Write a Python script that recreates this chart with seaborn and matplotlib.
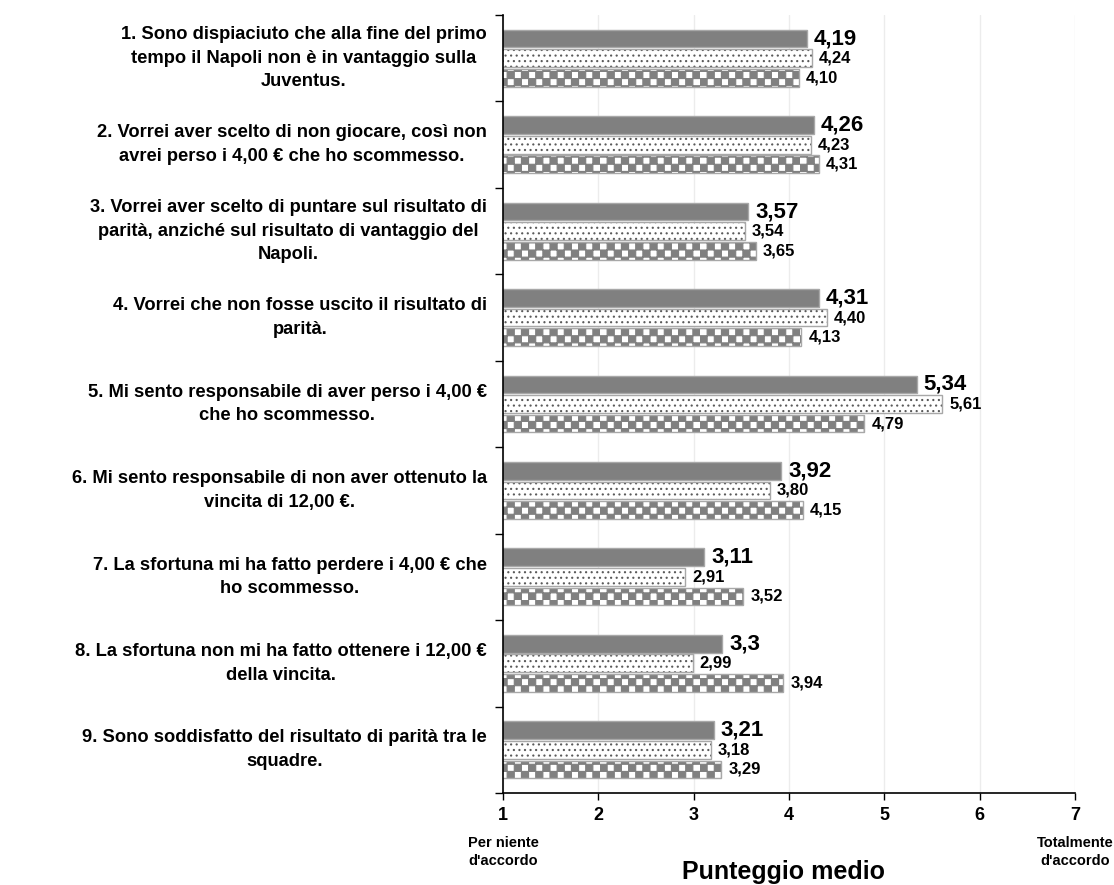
import numpy as np
import pandas as pd
import matplotlib
matplotlib.use("Agg")
import matplotlib.pyplot as plt
import matplotlib.transforms as mtransforms
from matplotlib import hatch as mhatch
from matplotlib.path import Path
from matplotlib.colors import to_rgba
import seaborn as sns

# ---- data -------------------------------------------------------------
items = [
    "1. Sono dispiaciuto che alla fine del primo\ntempo il Napoli non è in vantaggio sulla\nJuventus.",
    "2. Vorrei aver scelto di non giocare, così non\navrei perso i 4,00 € che ho scommesso.",
    "3. Vorrei aver scelto di puntare sul risultato di\nparità, anziché sul risultato di vantaggio del\nNapoli.",
    "4. Vorrei che non fosse uscito il risultato di\nparità.",
    "5. Mi sento responsabile di aver perso i 4,00 €\nche ho scommesso.",
    "6. Mi sento responsabile di non aver ottenuto la\nvincita di 12,00 €.",
    "7. La sfortuna mi ha fatto perdere i 4,00 € che\nho scommesso.",
    "8. La sfortuna non mi ha fatto ottenere i 12,00 €\ndella vincita.",
    "9. Sono soddisfatto del risultato di parità tra le\nsquadre.",
]
series_names = ["Totale", "Gruppo A", "Gruppo B"]
series_1 = ["4,19", "4,26", "3,57", "4,31", "5,34", "3,92", "3,11", "3,3", "3,21"]
series_2 = ["4,24", "4,23", "3,54", "4,40", "5,61", "3,80", "2,91", "2,99", "3,18"]
series_3 = ["4,10", "4,31", "3,65", "4,13", "4,79", "4,15", "3,52", "3,94", "3,29"]
x_ticks = [1, 2, 3, 4, 5, 6, 7]
x_title = "Punteggio medio"
low_anchor = "Per niente\nd'accordo"
high_anchor = "Totalmente\nd'accordo"


def to_num(s):
    return float(s.replace(",", "."))


all_series = [series_1, series_2, series_3]
rows = []
for name, vals in zip(series_names, all_series):
    for item, v in zip(items, vals):
        rows.append({"item": item, "serie": name, "score": to_num(v), "label": v})
df = pd.DataFrame(rows)


# ---- checkerboard hatch (replaces the unused star hatch) --------------
class CheckerHatch(mhatch.HatchPatternBase):
    def __init__(self, hatch, density):
        self.n = 14 if "*" in hatch else 0
        self.num_vertices = (self.n * self.n // 2) * 5

    def set_vertices_and_codes(self, vertices, codes):
        s = 1.0 / self.n
        k = 0
        for i in range(self.n):
            for j in range(self.n):
                if (i + j) % 2 == 0:
                    x0, y0 = j * s, i * s
                    vertices[k:k + 5] = [(x0, y0), (x0 + s, y0), (x0 + s, y0 + s),
                                         (x0, y0 + s), (x0, y0)]
                    codes[k:k + 5] = [Path.MOVETO, Path.LINETO, Path.LINETO,
                                      Path.LINETO, Path.CLOSEPOLY]
                    k += 5


mhatch._hatch_types = [t for t in mhatch._hatch_types if t is not mhatch.Stars] + [CheckerHatch]

# ---- figure -----------------------------------------------------------
sns.set_theme(style="white")
plt.rcParams["font.family"] = ["Liberation Sans", "DejaVu Sans"]
plt.rcParams["font.weight"] = "bold"
plt.rcParams["text.color"] = "black"
plt.rcParams["xtick.color"] = "black"
plt.rcParams["ytick.color"] = "black"
plt.rcParams["hatch.linewidth"] = 0.8

fig = plt.figure(figsize=(11.14, 8.85), dpi=100)
ax = fig.add_axes([0.4515, 0.104, 0.5135, 0.879])

sns.barplot(data=df, y="item", x="score", hue="serie", orient="h",
            order=items, hue_order=series_names,
            palette=["#808080", "#ffffff", "#ffffff"], saturation=1,
            width=0.68, gap=0.1, legend=False, ax=ax, errorbar=None)

hatches = [None, "...", "*"]
hatch_colors = [None, "#5a5a5a", "#808080"]
label_sizes = [16, 12, 12]
for cont, h, hc, fs, vals in zip(ax.containers, hatches, hatch_colors, label_sizes, all_series):
    for bar in cont:
        bar.set_edgecolor("#a8a8a8")
        bar.set_linewidth(1.0)
        if h:
            bar.set_hatch(h)
            bar._hatch_color = to_rgba(hc)
    ax.bar_label(cont, labels=vals, padding=5, fontsize=fs, fontweight="bold",
                 color="black")

ax.set_xlim(1, 7)
ax.set_ylim(8.5, -0.5)
ax.set_xticks(x_ticks)
ax.set_xticklabels([str(t) for t in x_ticks], fontsize=13, fontweight="bold",
                   color="black")
ax.set_xlabel("")
ax.set_ylabel("")

# group boundaries as ticks, labels written beside each group
ax.set_yticks(np.arange(-0.5, len(items), 1.0))
ax.set_yticklabels([])
ax.tick_params(axis="y", which="major", direction="out", length=6, width=1, left=True)
ax.tick_params(axis="x", which="major", direction="out", length=5, width=1,
               bottom=True, pad=5)

lab_tr = mtransforms.blended_transform_factory(ax.transAxes, ax.transData)
for i, item in enumerate(items):
    ax.text(-0.028, i, item, transform=lab_tr, ha="right", va="center",
            multialignment="center", fontsize=13.2, fontweight="bold",
            linespacing=1.5, color="black")

ax.grid(axis="x", color="#ececec", linewidth=1)
ax.set_axisbelow(True)
for side in ["top", "right"]:
    ax.spines[side].set_visible(False)
for side in ["left", "bottom"]:
    ax.spines[side].set_color("black")
    ax.spines[side].set_linewidth(1.2)

sub_tr = mtransforms.blended_transform_factory(ax.transData, fig.transFigure)
ax.text(1, 1 - 852 / 885, low_anchor, transform=sub_tr, ha="center", va="center",
        fontsize=10.5, fontweight="bold", linespacing=1.45)
ax.text(7, 1 - 852 / 885, high_anchor, transform=sub_tr, ha="center", va="center",
        fontsize=10.5, fontweight="bold", linespacing=1.45)
fig.text((503 + 1075) / 2 / 1114 - 0.005, 1 - 872 / 885, x_title, ha="center", va="center",
         fontsize=18, fontweight="bold")

fig.savefig("out.png", dpi=100)
